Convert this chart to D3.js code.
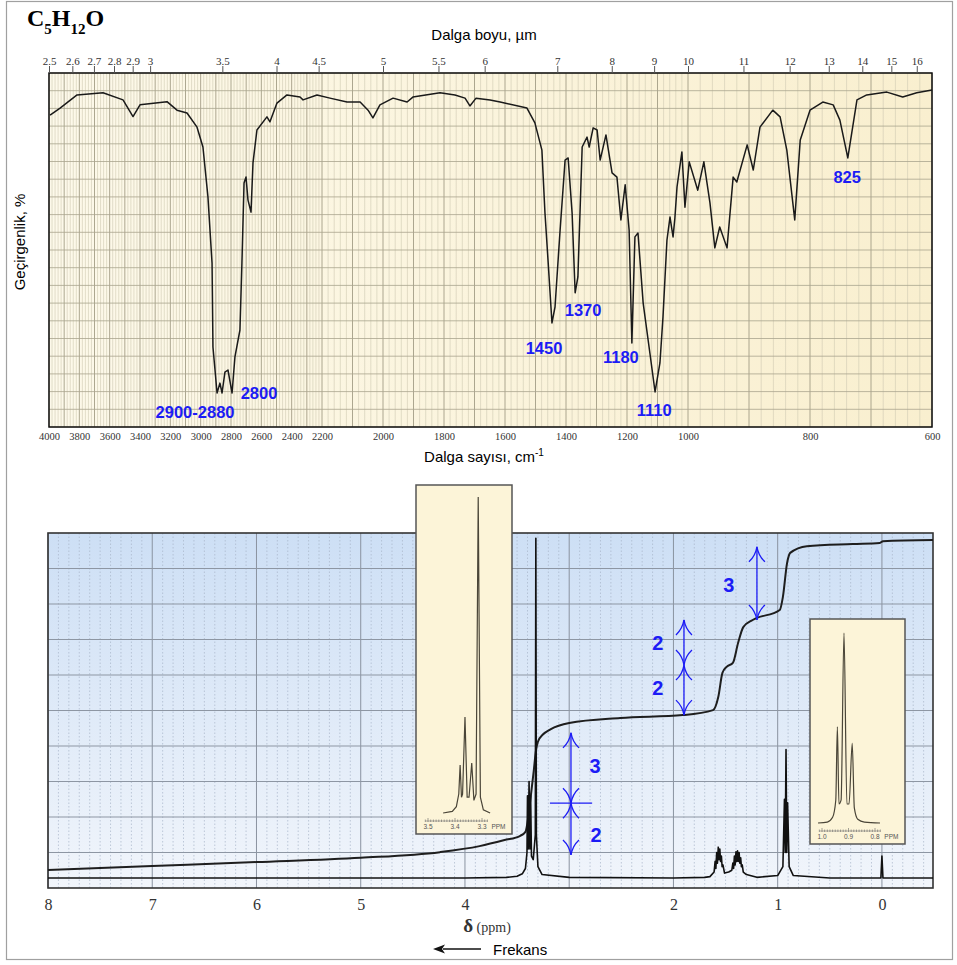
<!DOCTYPE html>
<html>
<head>
<meta charset="utf-8">
<script src="https://cdn.jsdelivr.net/npm/d3@7"></script>
<style>
  body { margin: 0; background: #fff; }
  svg { display: block; }
</style>
</head>
<body>
<svg id="chart" width="957" height="965"></svg>
<script>
// ---------- IR data ----------
const irWavenumber = [3993,3927,3815,3644,3512,3446,3400,3222,3156,3090,
  3024,2985,2952,2925,2919,2892,2873,2859,2840,2820,
  2793,2774,2741,2728,2714,2701,2688,2668,2655,2629,
  2563,2543,2497,2431,2345,2325,2233,2174,2118,2075,
  2049,2033,2010,1967,1921,1902,1813,1764,1731,1715,
  1695,1649,1616,1528,1502,1479,1469,1459,1446,1436,
  1420,1403,1393,1380,1370,1361,1347,1331,1324,1311,
  1298,1288,1269,1249,1233,1220,1206,1193,1184,1174,
  1164,1147,1125,1108,1092,1082,1069,1059,1049,1043,
  1036,1020,1010,998,984,974,964,956,948,936,
  926,920,903,893,882,861,849,838,825,816,
  800,779,762,751,738,723,707,674,648,625,600];
const irTransmittance = [88.1,90.1,93.8,94.4,92.4,87.7,91.0,91.9,89.5,88.7,
  84.7,79.1,65.0,46.3,22.6,9.6,12.4,9.6,15.5,16.1,
  9.6,19.8,27.4,46.3,68.9,70.6,64.1,60.7,74.6,83.9,
  87.6,86.2,91.5,93.8,93.2,92.4,93.8,92.9,91.8,91.8,
  89.5,87.3,91.0,92.9,91.8,93.2,94.4,93.8,92.9,90.7,
  92.9,92.4,91.8,90.1,85.9,78.2,60.5,47.2,29.4,33.9,
  54.8,75.4,76.0,60.5,37.9,42.4,79.1,81.9,79.1,84.5,
  83.9,75.4,82.5,71.8,70.6,58.5,68.4,55.6,23.7,53.7,
  54.8,35.0,20.9,9.9,18.1,31.1,52.8,59.3,53.7,59.0,
  67.8,77.7,62.1,74.9,66.9,74.9,63.3,50.6,56.5,50.6,
  70.6,69.2,79.7,72.6,84.7,89.5,87.6,78.2,58.5,81.1,
  89.5,91.8,91.0,86.7,76.0,92.4,93.8,94.6,93.2,94.4,95.2];
const irTopTicks = [2.5,2.6,2.7,2.8,2.9,3,3.5,4,4.5,5,5.5,6,7,8,9,10,11,12,13,14,15,16];
const irBottomTicks = [4000,3800,3600,3400,3200,3000,2800,2600,2400,2200,2000,1800,1600,1400,1200,1000,800,600];
const irPeakLabels = ['2900-2880','2800','1450','1370','1180','1110','825'];
const irPeakLabelWn = [3037,2615,1472,1344,1220,1111,739];
const irPeakLabelT = [4.2,9.6,22.3,33.0,19.8,4.8,70.6];

// ---------- 1H NMR data ----------
const nmrPpm = [8.0,5.0,4.0,3.6,3.5,3.45,3.42,3.405,3.40,3.393,
  3.385,3.377,3.37,3.362,3.345,3.325,3.32,3.315,3.30,3.26,
  3.0,2.0,1.70,1.65,1.61,1.60,1.593,1.585,1.578,1.57,
  1.563,1.555,1.548,1.54,1.533,1.525,1.51,1.47,1.44,1.43,
  1.423,1.415,1.408,1.40,1.393,1.385,1.378,1.37,1.363,1.355,
  1.348,1.34,1.33,1.30,1.2,1.0,0.95,0.935,0.928,0.92,
  0.913,0.905,0.89,0.85,0.5,0.01,0.0,-0.01,-0.49];
const nmrIntensity = [0.28,0.28,0.28,0.30,0.33,0.40,0.55,1.0,2.6,1.1,
  3.0,1.1,2.6,0.9,0.8,1.5,9.85,1.5,0.6,0.38,
  0.3,0.28,0.3,0.32,0.45,0.75,0.55,1.0,0.7,1.15,
  0.8,1.1,0.75,0.9,0.6,0.65,0.42,0.45,0.5,0.7,
  0.55,0.9,0.65,1.02,0.75,1.05,0.75,1.0,0.7,0.85,
  0.6,0.65,0.45,0.38,0.3,0.35,0.6,2.5,1.0,3.9,
  1.0,2.4,0.6,0.35,0.28,0.28,0.9,0.28,0.28];
const integralPpm = [8.0,7.0,6.0,5.0,4.24,3.86,3.62,3.47,3.42,3.40,
  3.37,3.34,3.32,3.30,3.25,3.18,3.0,2.51,1.91,1.62,
  1.57,1.53,1.49,1.43,1.38,1.33,1.24,0.98,0.95,0.91,
  0.88,0.72,0.28,0.02,-0.01,-0.49];
const integralValue = [0.51,0.62,0.73,0.85,1.01,1.18,1.35,1.47,1.58,1.85,
  2.55,3.30,3.85,4.12,4.33,4.47,4.65,4.79,4.87,5.01,
  5.38,6.06,6.23,6.34,6.90,7.35,7.55,7.83,8.20,9.15,
  9.44,9.63,9.69,9.72,9.77,9.80];
const nmrTicks = [8,7,6,5,4,2,1,0];

// integration steps (blue arrows)
const stepPpm = [2.983,1.899,1.199];
const stepTop = [4.37,7.55,9.61];
const stepMid = [2.39,6.28,null];
const stepBottom = [0.93,4.87,7.55];
const stepLabels = ['3','2','2','2','3'];
const stepLabelPpm = [2.753,2.743,2.149,2.149,1.468];
const stepLabelValue = [3.44,1.49,6.9,5.63,8.54];

// expanded insets
const inset1Ppm = [3.444,3.41,3.395,3.386,3.381,3.376,3.372,3.363,3.355,3.348,3.338,3.330,3.322,3.314,3.306,3.295,3.27];
const inset1Int = [0,0.5,2,6,15.2,5,6,30.4,5,5,15.8,4,6,100,5,1,0];
const inset1Ticks = [3.5,3.4,3.3];
const inset2Ppm = [1.015,0.98,0.96,0.948,0.942,0.936,0.928,0.917,0.906,0.898,0.886,0.878,0.865,0.84,0.781];
const inset2Int = [0,0.5,3,12,50.6,10,12,100,10,10,41.9,8,2,0.5,0];
const inset2Ticks = [1.0,0.9,0.8];

const serif = '"Liberation Serif","Times New Roman",serif';
const sans = '"Liberation Sans",Arial,sans-serif';
const blue = '#1c1cf5';

const svg = d3.select('#chart');
const defs = svg.append('defs');

// outer frame
svg.append('rect').attr('x', 6.5).attr('y', 1.5).attr('width', 946).attr('height', 958)
  .attr('fill', '#fff').attr('stroke', '#a0a0a0').attr('stroke-width', 1.2);

// title C5H12O
const title = svg.append('text').attr('x', 27).attr('y', 26)
  .attr('font-family', serif).attr('font-weight', 'bold').attr('font-size', 24);
title.append('tspan').text('C');
title.append('tspan').attr('font-size', 15).attr('dy', 8).text('5');
title.append('tspan').attr('dy', -8).text('H');
title.append('tspan').attr('font-size', 15).attr('dy', 8).text('12');
title.append('tspan').attr('dy', -8).text('O');

// ================= IR =================
const irX = d3.scaleLinear().domain([4000, 2200, 1000, 600]).range([49, 322, 688, 932]);
const irY = d3.scaleLinear().domain([0, 100]).range([427, 73]);

const irGrad = defs.append('linearGradient').attr('id', 'irbg').attr('x1', 0).attr('x2', 1).attr('y1', 0).attr('y2', 0);
irGrad.append('stop').attr('offset', 0).attr('stop-color', '#fdf9ea');
irGrad.append('stop').attr('offset', 1).attr('stop-color', '#f9efcf');

svg.append('rect').attr('x', irX(4000)).attr('y', irY(100))
  .attr('width', irX(600) - irX(4000)).attr('height', irY(0) - irY(100))
  .attr('fill', 'url(#irbg)');

const irGrid = svg.append('g');
d3.range(600, 4001, 20).forEach(wn => {
  irGrid.append('line')
    .attr('x1', irX(wn)).attr('x2', irX(wn)).attr('y1', irY(0)).attr('y2', irY(100))
    .attr('stroke', wn % 100 === 0 ? '#a39d86' : '#cfc9b2')
    .attr('stroke-width', wn % 100 === 0 ? 0.9 : 0.6);
});
d3.range(0, 101, 5).forEach(t => {
  irGrid.append('line')
    .attr('x1', irX(4000)).attr('x2', irX(600)).attr('y1', irY(t)).attr('y2', irY(t))
    .attr('stroke', '#aaa48e').attr('stroke-width', 0.8);
});

svg.append('rect').attr('x', irX(4000)).attr('y', irY(100))
  .attr('width', irX(600) - irX(4000)).attr('height', irY(0) - irY(100))
  .attr('fill', 'none').attr('stroke', '#111').attr('stroke-width', 1.5);

const irLine = d3.line().x(d => irX(d[0])).y(d => irY(d[1]));
svg.append('path').datum(d3.zip(irWavenumber, irTransmittance))
  .attr('d', irLine).attr('fill', 'none').attr('stroke', '#1a1a1a')
  .attr('stroke-width', 1.5).attr('stroke-linejoin', 'round');

// top axis (wavelength, µm)
const topAxis = svg.append('g').attr('transform', `translate(0,${irY(100)})`)
  .call(d3.axisTop(irX).tickValues(irTopTicks.map(um => 10000 / um))
    .tickFormat((d, i) => irTopTicks[i]).tickSize(7).tickSizeOuter(0).tickPadding(1));
topAxis.select('.domain').remove();
topAxis.selectAll('line').attr('stroke', '#555');
topAxis.selectAll('text').attr('font-family', serif).attr('font-size', 11).attr('fill', '#333');

// bottom axis (wavenumber)
const botAxis = svg.append('g').attr('transform', `translate(0,${irY(0)})`)
  .call(d3.axisBottom(irX).tickValues(irBottomTicks).tickFormat(d3.format('d'))
    .tickSize(0).tickPadding(6));
botAxis.select('.domain').remove();
botAxis.selectAll('text').attr('font-family', serif).attr('font-size', 10.5).attr('fill', '#333');

svg.append('text').attr('x', 484).attr('y', 40).attr('text-anchor', 'middle')
  .attr('font-family', sans).attr('font-size', 15).text('Dalga boyu, µm');

const xl = svg.append('text').attr('x', 484).attr('y', 462).attr('text-anchor', 'middle')
  .attr('font-family', sans).attr('font-size', 15);
xl.append('tspan').text('Dalga sayısı, cm');
xl.append('tspan').attr('font-size', 10).attr('dy', -6).text('-1');

svg.append('text').attr('transform', 'translate(25,242) rotate(-90)').attr('text-anchor', 'middle')
  .attr('font-family', sans).attr('font-size', 15).text('Geçirgenlik, %');

svg.append('g').selectAll('text').data(irPeakLabels).enter().append('text')
  .attr('x', (d, i) => irX(irPeakLabelWn[i]))
  .attr('y', (d, i) => irY(irPeakLabelT[i]))
  .attr('dy', '0.36em').attr('text-anchor', 'middle')
  .attr('font-family', sans).attr('font-weight', 'bold').attr('font-size', 16.5)
  .attr('fill', blue).text(d => d);

// ================= NMR =================
const nmrX = d3.scaleLinear().domain([8, -0.49]).range([48, 933]);
const nmrY = d3.scaleLinear().domain([0, 10]).range([888, 533]);

const nmrGrad = defs.append('linearGradient').attr('id', 'nmrbg').attr('x1', 0).attr('x2', 0).attr('y1', 0).attr('y2', 1);
nmrGrad.append('stop').attr('offset', 0).attr('stop-color', '#cddff5');
nmrGrad.append('stop').attr('offset', 1).attr('stop-color', '#f1f5fb');

svg.append('rect').attr('x', nmrX(8)).attr('y', nmrY(10))
  .attr('width', nmrX(-0.49) - nmrX(8)).attr('height', nmrY(0) - nmrY(10))
  .attr('fill', 'url(#nmrbg)');

const nmrGrid = svg.append('g');
d3.range(0, 85).map(k => 8 - k / 10).filter(p => p > -0.49).forEach((p, k) => {
  const major = k % 10 === 0;
  nmrGrid.append('line')
    .attr('x1', nmrX(p)).attr('x2', nmrX(p)).attr('y1', nmrY(0)).attr('y2', nmrY(10))
    .attr('stroke', major ? '#8a93a0' : '#a8b5c8')
    .attr('stroke-width', major ? 1 : 0.7)
    .attr('stroke-dasharray', major ? null : '1.5,2');
});
d3.range(1, 10).forEach(v => {
  nmrGrid.append('line')
    .attr('x1', nmrX(8)).attr('x2', nmrX(-0.49)).attr('y1', nmrY(v)).attr('y2', nmrY(v))
    .attr('stroke', '#8d96a3').attr('stroke-width', 1);
});

svg.append('rect').attr('x', nmrX(8)).attr('y', nmrY(10))
  .attr('width', nmrX(-0.49) - nmrX(8)).attr('height', nmrY(0) - nmrY(10))
  .attr('fill', 'none').attr('stroke', '#333').attr('stroke-width', 1.6);

// integral curve
svg.append('path').datum(d3.zip(integralPpm, integralValue))
  .attr('d', d3.line().x(d => nmrX(d[0])).y(d => nmrY(d[1])).curve(d3.curveMonotoneX))
  .attr('fill', 'none').attr('stroke', '#1e1e1e').attr('stroke-width', 2);

// spectrum
svg.append('path').datum(d3.zip(nmrPpm, nmrIntensity))
  .attr('d', d3.line().x(d => nmrX(d[0])).y(d => nmrY(d[1])))
  .attr('fill', 'none').attr('stroke', '#111').attr('stroke-width', 1.6)
  .attr('stroke-linejoin', 'round');

// integration arrows
const arrows = svg.append('g').attr('stroke', blue).attr('stroke-width', 1.3).attr('fill', 'none');
function chevron(x, y, dir) {
  // dir = 1: tip pointing up at y; dir = -1: tip pointing down at y
  const h = 15 * dir;
  arrows.append('path').attr('d',
    `M${x - 8},${y + h} Q${x - 1.5},${y + 9 * dir} ${x},${y} Q${x + 1.5},${y + 9 * dir} ${x + 8},${y + h}`);
}
stepPpm.forEach((p, i) => {
  const x = nmrX(p);
  arrows.append('line').attr('x1', x).attr('x2', x)
    .attr('y1', nmrY(stepTop[i])).attr('y2', nmrY(stepBottom[i]));
  chevron(x, nmrY(stepTop[i]), 1);
  chevron(x, nmrY(stepBottom[i]), -1);
  if (stepMid[i] !== null) {
    chevron(x, nmrY(stepMid[i]), 1);
    chevron(x, nmrY(stepMid[i]), -1);
  }
});
arrows.append('line').attr('x1', nmrX(3.185)).attr('x2', nmrX(2.78))
  .attr('y1', nmrY(stepMid[0])).attr('y2', nmrY(stepMid[0]));

svg.append('g').selectAll('text').data(stepLabels).enter().append('text')
  .attr('x', (d, i) => nmrX(stepLabelPpm[i]))
  .attr('y', (d, i) => nmrY(stepLabelValue[i]))
  .attr('dy', '0.36em').attr('text-anchor', 'middle')
  .attr('font-family', sans).attr('font-weight', 'bold').attr('font-size', 20)
  .attr('fill', blue).text(d => d);

// ppm axis
const nmrAxis = svg.append('g').attr('transform', `translate(0,${nmrY(0)})`)
  .call(d3.axisBottom(nmrX).tickValues(nmrTicks).tickSize(0).tickPadding(11));
nmrAxis.select('.domain').remove();
nmrAxis.selectAll('text').attr('font-family', serif).attr('font-size', 16).attr('fill', '#333');

const dl = svg.append('text').attr('x', 487).attr('y', 932).attr('text-anchor', 'middle')
  .attr('font-family', serif).attr('fill', '#333');
dl.append('tspan').attr('font-size', 19).attr('font-weight', 'bold').text('δ');
dl.append('tspan').attr('font-size', 14).text(' (ppm)');

// Frekans arrow
svg.append('line').attr('x1', 443).attr('x2', 481).attr('y1', 949).attr('y2', 949)
  .attr('stroke', '#111').attr('stroke-width', 1.3);
svg.append('path').attr('d', 'M433,949 L445,944.5 L442,949 L445,953.5 Z').attr('fill', '#111');
svg.append('text').attr('x', 493).attr('y', 955).attr('font-family', sans)
  .attr('font-size', 15).text('Frekans');

// insets
function inset(box, ppmDomain, pxRange, baseY, topY, ppm, inten, ticks, ruler, curve) {
  const g = svg.append('g');
  g.append('rect').attr('x', box[0]).attr('y', box[1]).attr('width', box[2]).attr('height', box[3])
    .attr('fill', '#fcf4d8').attr('stroke', '#555').attr('stroke-width', 1.5);
  const x = d3.scaleLinear().domain(ppmDomain).range(pxRange);
  const y = d3.scaleLinear().domain([0, 100]).range([baseY, topY]);
  g.append('path').datum(d3.zip(ppm, inten))
    .attr('d', d3.line().x(d => x(d[0])).y(d => y(d[1])).curve(curve))
    .attr('fill', 'none').attr('stroke', '#4a4538').attr('stroke-width', 1.2);
  const ry = box[1] + box[3] - 13;
  g.append('line').attr('x1', x(ruler[0])).attr('x2', x(ruler[1])).attr('y1', ry).attr('y2', ry)
    .attr('stroke', '#777').attr('stroke-width', 0.6);
  d3.range(Math.round(ruler[0] * 100), Math.round(ruler[1] * 100) - 1, -1).forEach(k => {
    const major = k % 10 === 0;
    g.append('line').attr('x1', x(k / 100)).attr('x2', x(k / 100))
      .attr('y1', ry - (major ? 3 : 1.5)).attr('y2', ry + 1)
      .attr('stroke', '#666').attr('stroke-width', 0.6);
  });
  g.selectAll('text.tk').data(ticks).enter().append('text')
    .attr('x', d => x(d)).attr('y', ry + 8).attr('text-anchor', 'middle')
    .attr('font-family', sans).attr('font-size', 6.5).attr('fill', '#555')
    .text(d => d.toFixed(1));
  g.append('text').attr('x', x(ruler[1]) + 4).attr('y', ry + 8)
    .attr('font-family', sans).attr('font-size', 6.5).attr('fill', '#555').text('PPM');
}
inset([416, 485, 96, 349], [3.5, 3.3], [428, 482], 813, 497,
  inset1Ppm, inset1Int, inset1Ticks, [3.51, 3.28], d3.curveLinear);
inset([810, 619, 95, 225], [1.0, 0.8], [822, 875], 823, 633,
  inset2Ppm, inset2Int, inset2Ticks, [1.01, 0.78], d3.curveMonotoneX);
</script>
</body>
</html>
